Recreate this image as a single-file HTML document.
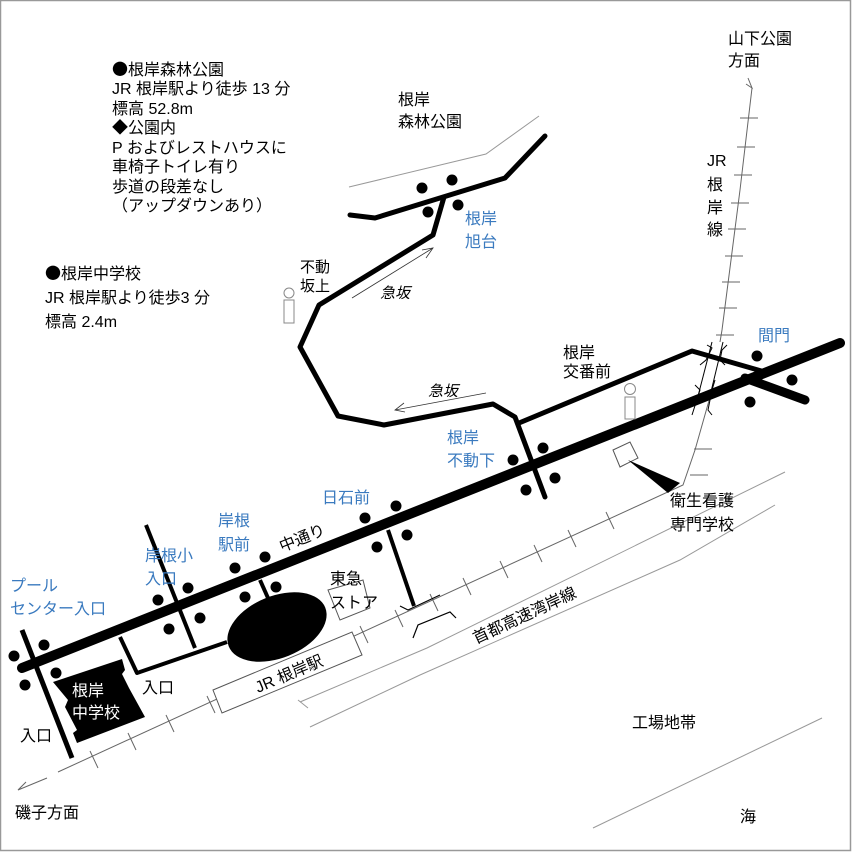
<!DOCTYPE html>
<html><head><meta charset="utf-8"><style>
html,body{margin:0;padding:0;background:#fff}
svg{display:block}
text{font-family:"Liberation Sans","Noto Sans CJK JP",sans-serif;font-size:16px;fill:#000}
.j{font-family:"Noto Sans CJK JP",sans-serif}
.b{fill:#3a7abf}
</style></head><body>
<svg width="852" height="852" viewBox="0 0 852 852" xmlns="http://www.w3.org/2000/svg">
<rect x="0.5" y="0.5" width="850" height="850" fill="#fff" stroke="#999" stroke-width="1.5"/>
<g fill="none" stroke="#999" stroke-width="1">
<polyline points="349,187 486,154 539,116"/>
<polyline points="300,702 427,648 785,472"/>
<polyline points="298,700 308,708"/>
<polyline points="310,727 420,675 680,560 775,505"/>
<polyline points="593,828 822,718"/>
</g>
<g fill="none" stroke="#666" stroke-width="1">
<polyline points="752,88 740,190 722,330 712,390 695,450 683,485 58,772"/>
<polyline points="748,78 752,88 746,84"/>
<polyline points="47,778 18,790 26,782"/>
<path d="M740,118h18 M737,147h18 M734,175h18 M731,203h18 M728,229h18 M725,256h18 M722,282h18 M719,308h18 M716,335h18 M694,449h18 M690,475h18"/>
<path d="M606,512l8,17 M568,530l8,17 M534,545l8,17 M500,561l8,17 M463,578l8,17 M430,594l8,17 M395,610l8,17 M360,626l8,17 M207,696l8,17 M166,715l8,17 M128,733l8,17 M90,751l8,17"/>
</g>
<polygon points="708,342 726,342 712,400 694,400" fill="#fff"/>
<g fill="none" stroke="#000" stroke-width="1">
<line x1="712" y1="342" x2="697" y2="400"/><line x1="723" y1="342" x2="709" y2="400"/>
<polyline points="707,345 712,348 706,360 700,365"/>
<polyline points="727,345 722,350 720,360 725,365"/>
<polyline points="695,385 700,390 692,415"/>
<polyline points="715,380 712,390 708,410 712,415"/>
</g>
<g fill="none" stroke="#000" stroke-linejoin="round" stroke-linecap="round">
<line x1="22" y1="668" x2="840" y2="343" stroke-width="10"/>
<polyline points="350,215 375,218 505,178 545,136" stroke-width="5"/>
<polyline points="444,197 433,235 319,305 300,347 338,416 384,425 493,404 515,417 545,497" stroke-width="5"/>
<polyline points="519,423 692,351 765,372" stroke-width="5"/>
<line x1="745" y1="378" x2="805" y2="400" stroke-width="9"/>
<line x1="22" y1="630" x2="72" y2="758" stroke-width="5" stroke-linecap="butt"/>
<polyline points="120,637 137,673 227,642" stroke-width="4" stroke-linecap="butt"/>
<line x1="146" y1="525" x2="195" y2="648" stroke-width="4" stroke-linecap="butt"/>
<line x1="260" y1="580" x2="268" y2="598" stroke-width="4" stroke-linecap="butt"/>
<line x1="388" y1="530" x2="414" y2="606" stroke-width="4" stroke-linecap="butt"/>
</g>
<g fill="none" stroke="#000" stroke-width="1.2">
<polyline points="400,606 408,610 440,595"/>
<polyline points="413,638 418,625 450,612 456,618"/>
</g>
<polygon points="213,690 352,632 362,655 222,713" fill="#fff" stroke="#555" stroke-width="1"/>
<polygon points="328,590 363,580 370,608 340,620" fill="#fff" stroke="#555" stroke-width="1"/>
<polygon points="613,450 630,442 638,458 620,467" fill="#fff" stroke="#555" stroke-width="1"/>
<polygon points="628,460 680,483 668,493" fill="#000"/>
<ellipse cx="277" cy="627" rx="52" ry="31" transform="rotate(-22 277 627)" fill="#000"/>
<polygon points="53,682 122,659 125,670 122,674 129,688 145,717 77,743 73,733 77,730 65,707 68,700" fill="#000"/>
<g fill="#000">
<circle cx="422" cy="188" r="5.5"/><circle cx="452" cy="180" r="5.5"/><circle cx="428" cy="212" r="5.5"/><circle cx="458" cy="205" r="5.5"/>
<circle cx="513" cy="460" r="5.5"/><circle cx="543" cy="448" r="5.5"/><circle cx="526" cy="490" r="5.5"/><circle cx="555" cy="478" r="5.5"/>
<circle cx="757" cy="356" r="5.5"/><circle cx="792" cy="380" r="5.5"/><circle cx="750" cy="402" r="5.5"/>
<circle cx="365" cy="518" r="5.5"/><circle cx="396" cy="506" r="5.5"/><circle cx="377" cy="547" r="5.5"/><circle cx="407" cy="535" r="5.5"/>
<circle cx="235" cy="568" r="5.5"/><circle cx="265" cy="557" r="5.5"/><circle cx="245" cy="597" r="5.5"/><circle cx="276" cy="587" r="5.5"/>
<circle cx="188" cy="588" r="5.5"/><circle cx="158" cy="600" r="5.5"/><circle cx="200" cy="618" r="5.5"/><circle cx="169" cy="629" r="5.5"/>
<circle cx="44" cy="645" r="5.5"/><circle cx="14" cy="656" r="5.5"/><circle cx="56" cy="673" r="5.5"/><circle cx="25" cy="685" r="5.5"/>
</g>
<g fill="#fff" stroke="#888" stroke-width="1">
<circle cx="289" cy="293" r="5"/><rect x="284" y="300" width="10" height="23"/>
<circle cx="630" cy="389" r="5.5"/><rect x="625" y="397" width="10" height="22"/>
</g>
<g fill="none" stroke="#333" stroke-width="0.8">
<polyline points="352,298 433,248"/><polyline points="422,250 433,248 426,258"/>
<polyline points="486,393 395,410"/><polyline points="404,403 395,410 405,412"/>
</g>
<text x="112" y="75"><tspan class="j">●</tspan>根岸森林公園</text>
<text x="112" y="94">JR 根岸駅より徒歩 13 分</text>
<text x="112" y="114">標高 52.8m</text>
<text x="112" y="133"><tspan class="j">◆</tspan>公園内</text>
<text x="112" y="153">P およびレストハウスに</text>
<text x="112" y="172">車椅子トイレ有り</text>
<text x="112" y="192">歩道の段差なし</text>
<text x="112" y="211" class="j">（アップダウンあり）</text>
<text x="45" y="279"><tspan class="j">●</tspan>根岸中学校</text>
<text x="45" y="303">JR 根岸駅より徒歩3 分</text>
<text x="45" y="327">標高 2.4m</text>
<text x="398" y="105">根岸</text><text x="398" y="127">森林公園</text>
<text x="728" y="44">山下公園</text><text x="728" y="66">方面</text>
<text x="707" y="166">JR</text><text x="707" y="190">根</text><text x="707" y="213">岸</text><text x="707" y="235">線</text>
<text class="b" x="465" y="224">根岸</text><text class="b" x="465" y="247">旭台</text>
<text x="300" y="272" style="font-size:15px">不動</text><text x="300" y="291" style="font-size:15px">坂上</text>
<text x="380" y="298" font-style="italic" style="font-size:15px">急坂</text>
<text x="428" y="396" font-style="italic" style="font-size:15px">急坂</text>
<text x="563" y="358">根岸</text><text x="563" y="377">交番前</text>
<text class="b" x="758" y="341">間門</text>
<text class="b" x="447" y="443">根岸</text><text class="b" x="447" y="466">不動下</text>
<text x="670" y="506">衛生看護</text><text x="670" y="530">専門学校</text>
<text class="b" x="322" y="503">日石前</text>
<text class="b" x="218" y="526">岸根</text><text class="b" x="218" y="550">駅前</text>
<text class="b" x="145" y="561">岸根小</text><text class="b" x="145" y="584">入口</text>
<text class="b" x="10" y="591">プール</text><text class="b" x="10" y="614">センター入口</text>
<text x="282" y="552" transform="rotate(-22 282 552)">中通り</text>
<text x="330" y="584">東急</text><text x="330" y="608">ストア</text>
<text x="476" y="644" transform="rotate(-25 476 644)">首都高速湾岸線</text>
<text x="258" y="693" transform="rotate(-23 258 693)">JR 根岸駅</text>
<text x="72" y="696" style="fill:#fff">根岸</text><text x="72" y="718" style="fill:#fff">中学校</text>
<text x="142" y="693">入口</text>
<text x="20" y="741">入口</text>
<text x="15" y="818">磯子方面</text>
<text x="632" y="728">工場地帯</text>
<text x="740" y="822">海</text>
</svg>
</body></html>
